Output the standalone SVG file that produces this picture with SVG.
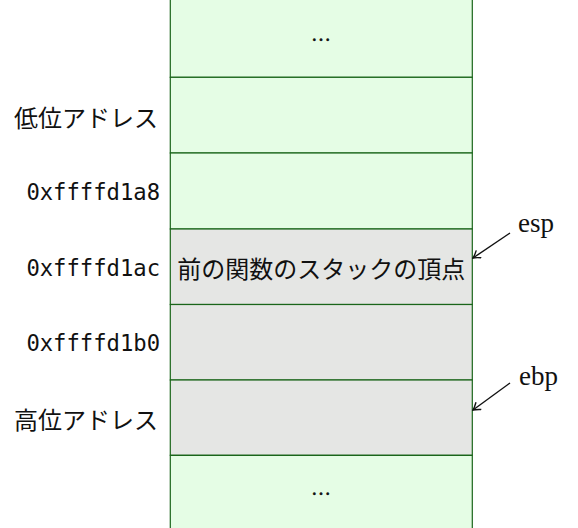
<svg xmlns="http://www.w3.org/2000/svg" width="578" height="528" viewBox="0 0 578 528">
<defs>
<style>
.g{fill:#e5fde5;stroke:#1a651a;stroke-width:1.2}
.s{fill:#e5e6e4;stroke:#1a651a;stroke-width:1.2}
.jp{font-family:"Noto Sans CJK JP",sans-serif;font-size:24px;fill:#111}
.mono{font-family:"DejaVu Sans Mono",monospace;font-size:22.2px;fill:#111}
.ser{font-family:"Liberation Serif",serif;font-size:27px;fill:#111}
.dots{font-family:"Liberation Serif",serif;font-size:20px;fill:#111;stroke:#111;stroke-width:0.5}
.arr{stroke:#111;stroke-width:1.4;fill:none;marker-end:url(#ah)}
</style>
<marker id="ah" viewBox="-8 -5 9 10" refX="0" refY="0" markerWidth="9" markerHeight="10" markerUnits="userSpaceOnUse" orient="auto">
<path d="M-7,-4.5 Q-2.5,-1 0,0 Q-2.5,1 -7,4.5" stroke="#111" stroke-width="1.4" fill="none"/>
</marker>
</defs>
<rect x="0" y="0" width="578" height="528" fill="#ffffff"/>
<g id="cell-top">
<path class="g" d="M170.3,-2 V77.3 H472.3 V-2"/>
<text class="dots" x="321" y="41" text-anchor="middle">…</text>
</g>
<g id="cell-low">
<rect class="g" x="170.3" y="77.3" width="302" height="75.7"/>
</g>
<g id="cell-a8">
<rect class="g" x="170.3" y="153" width="302" height="76"/>
</g>
<g id="cell-ac">
<rect class="s" x="170.3" y="229" width="302" height="75.5"/>
<text class="jp" x="321.3" y="267" text-anchor="middle" dominant-baseline="central" font-size="24.4">前の関数のスタックの頂点</text>
</g>
<g id="cell-b0">
<rect class="s" x="170.3" y="304.5" width="302" height="75.5"/>
</g>
<g id="cell-high">
<rect class="s" x="170.3" y="380" width="302" height="75.3"/>
</g>
<g id="cell-bottom">
<path class="g" d="M170.3,530 V455.3 H472.3 V530"/>
<text class="dots" x="321" y="495" text-anchor="middle">…</text>
</g>
<g id="labels">
<text class="jp" x="158" y="116" text-anchor="end" dominant-baseline="central">低位アドレス</text>
<text class="mono" x="160" y="192" text-anchor="end" dominant-baseline="central">0xffffd1a8</text>
<text class="mono" x="160" y="268" text-anchor="end" dominant-baseline="central">0xffffd1ac</text>
<text class="mono" x="160" y="343" text-anchor="end" dominant-baseline="central">0xffffd1b0</text>
<text class="jp" x="158" y="418" text-anchor="end" dominant-baseline="central">高位アドレス</text>
<text class="ser" x="518" y="232">esp</text>
<text class="ser" x="519" y="385">ebp</text>
</g>
<g id="connectors">
<line class="arr" x1="510" y1="233" x2="473" y2="258"/>
<line class="arr" x1="510" y1="383" x2="473" y2="410"/>
</g>
</svg>
